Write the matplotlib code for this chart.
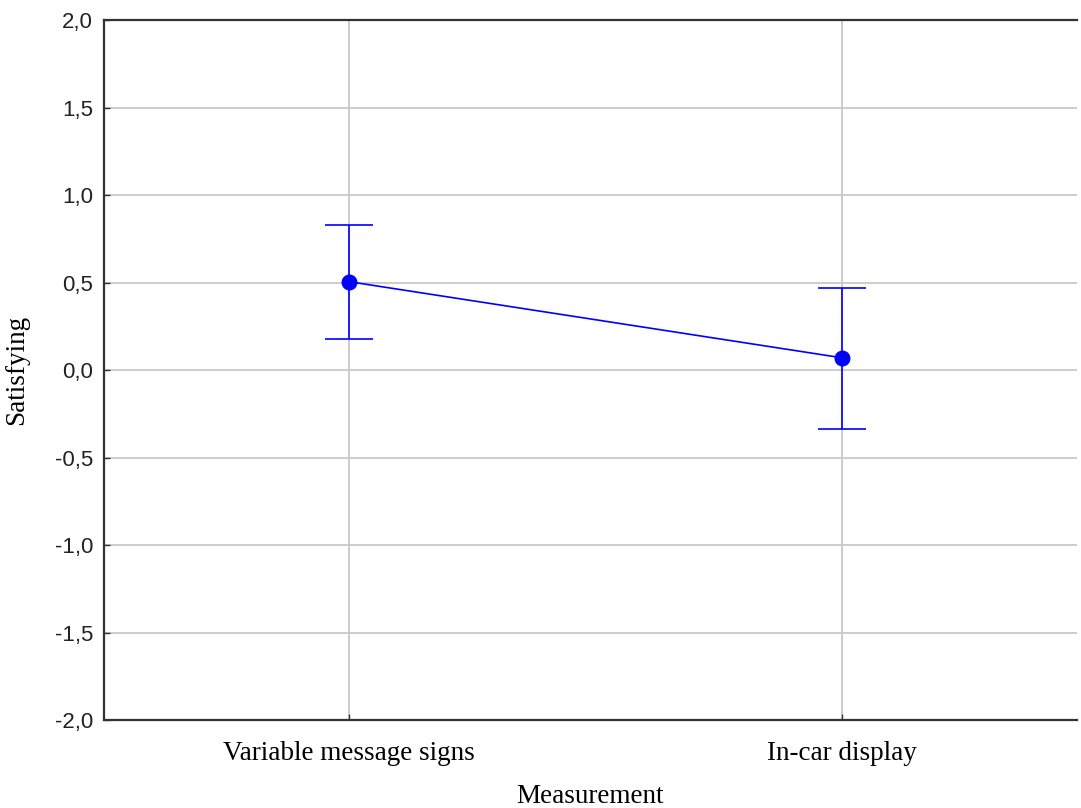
import matplotlib.pyplot as plt
import numpy as np

# Data
categories = ['Variable message signs', 'In-car display']
means = [0.505, 0.07]
upper = [0.83, 0.47]
lower = [0.18, -0.335]
y_ticks = [-2.0, -1.5, -1.0, -0.5, 0.0, 0.5, 1.0, 1.5, 2.0]

x = np.arange(len(categories))
err_low = np.array(means) - np.array(lower)
err_high = np.array(upper) - np.array(means)

fig = plt.figure(figsize=(10.81, 8.08), dpi=100)
ax = fig.add_axes([0.0962, 0.1089, 0.9001, 0.8663])

ax.errorbar(x, means, yerr=[err_low, err_high], color='#0000ff', marker='o',
            markersize=10.5, linewidth=1.2, elinewidth=1.2, capsize=17,
            capthick=1.2, zorder=3)

ax.set_xlim(-0.497, 1.477)
ax.set_ylim(-2.0, 2.0)
ax.set_yticks(y_ticks)
ax.set_yticklabels([f'{v:.1f}'.replace('.', ',') for v in y_ticks],
                   family='Liberation Sans', fontsize=16, color='#222222')
ax.set_xticks(x)
ax.set_xticklabels(categories, family='Liberation Serif', fontsize=19.5)
ax.tick_params(direction='in', length=4, width=1, color='#333333')
ax.tick_params(axis='x', pad=15)
ax.tick_params(axis='y', pad=8)

ax.grid(True, color='#c8c8c8', linewidth=1.3)
ax.set_axisbelow(True)

ax.spines['right'].set_visible(False)
for side in ['left', 'bottom', 'top']:
    ax.spines[side].set_linewidth(1.6)
    ax.spines[side].set_color('#333333')

ax.set_xlabel('Measurement', family='Liberation Serif', fontsize=19.5, labelpad=13)
ax.set_ylabel('Satisfying', family='Liberation Serif', fontsize=19.5, labelpad=18)

fig.savefig('out.png', dpi=100)
